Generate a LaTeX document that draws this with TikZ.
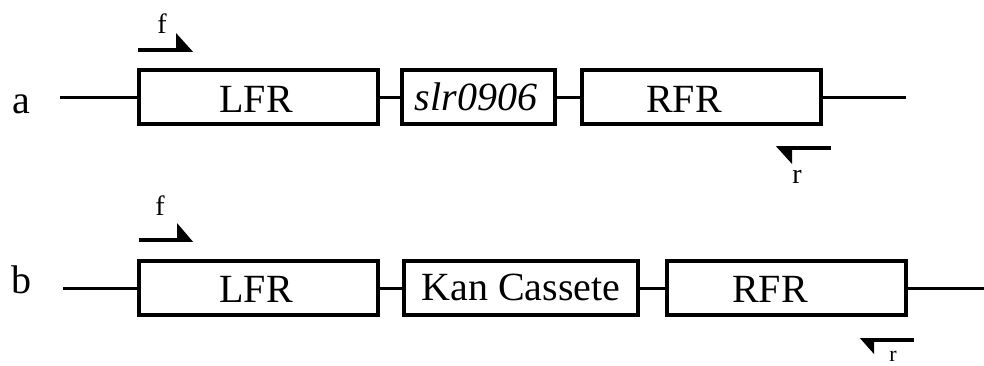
\documentclass[tikz,border=0pt]{standalone}
\usepackage{fontspec}
\setmainfont{Liberation Serif}
\begin{document}
\begin{tikzpicture}[x=1pt,y=-1pt,
  gene/.style={draw, line width=3.6pt, rectangle, inner sep=0pt},
  big/.style={font=\fontsize{40}{44}\selectfont, anchor=base, inner sep=0pt},
  small/.style={font=\fontsize{28}{30}\selectfont, anchor=base, inner sep=0pt},
  dna/.style={line width=3pt},
  primer/.style={line width=3.6pt},
  tip/.style={fill=black}]
\useasboundingbox (0,0) rectangle (984,365);
% row a
\node[big] (la) at (21,113) {a};
\node[gene, minimum width=239pt, minimum height=54pt] (a1) at (258.5,97) {};
\node[gene, minimum width=153pt, minimum height=54pt] (a2) at (478.5,97) {};
\node[gene, minimum width=239pt, minimum height=54pt] (a3) at (701.5,97) {};
\node[big] (ta1) at (256,112) {LFR};
\node[big] (ta2) at (476,110) {\itshape slr0906};
\node[big] (ta3) at (684,112) {RFR};
\coordinate (aL) at (60,97);
\coordinate (aR) at (906,97);
\draw[dna] (aL) -- (a1.west);
\draw[dna] (a1.east) -- (a2.west);
\draw[dna] (a2.east) -- (a3.west);
\draw[dna] (a3.east) -- (aR);
% primers a
\node[small] (fa) at (162,33) {f};
\coordinate (fa0) at (138,50);
\coordinate (fa1) at (189,50);
\draw[primer] (fa0) -- (fa1);
\fill[tip] (176,33) -- (176,51.8) -- (193,51.8) -- cycle;
\node[small] (ra) at (797,183) {r};
\coordinate (ra0) at (831,148);
\coordinate (ra1) at (781,148);
\draw[primer] (ra0) -- (ra1);
\fill[tip] (792,164) -- (792,146.2) -- (776,146.2) -- cycle;
% row b
\node[big] (lb) at (21,293) {b};
\node[gene, minimum width=239pt, minimum height=54pt] (b1) at (258.5,288) {};
\node[gene, minimum width=234pt, minimum height=54pt] (b2) at (521,288) {};
\node[gene, minimum width=239pt, minimum height=54pt] (b3) at (786.5,288) {};
\node[big] (tb1) at (256,302) {LFR};
\node[big] (tb2) at (521,300) {Kan Cassete};
\node[big] (tb3) at (770,302) {RFR};
\coordinate (bL) at (63,288);
\coordinate (bR) at (984,288);
\draw[dna] (bL) -- (b1.west);
\draw[dna] (b1.east) -- (b2.west);
\draw[dna] (b2.east) -- (b3.west);
\draw[dna] (b3.east) -- (bR);
% primers b
\node[small] (fb) at (160,215) {f};
\coordinate (fb0) at (139,240);
\coordinate (fb1) at (190,240);
\draw[primer] (fb0) -- (fb1);
\fill[tip] (177,223) -- (177,241.8) -- (193,241.8) -- cycle;
\node[font=\fontsize{22}{24}\selectfont, anchor=base, inner sep=0pt] (rb) at (893,361) {r};
\coordinate (rb0) at (914,340);
\coordinate (rb1) at (865,340);
\draw[primer] (rb0) -- (rb1);
\fill[tip] (874,354) -- (874,338.2) -- (860,338.2) -- cycle;
\end{tikzpicture}
\end{document}
